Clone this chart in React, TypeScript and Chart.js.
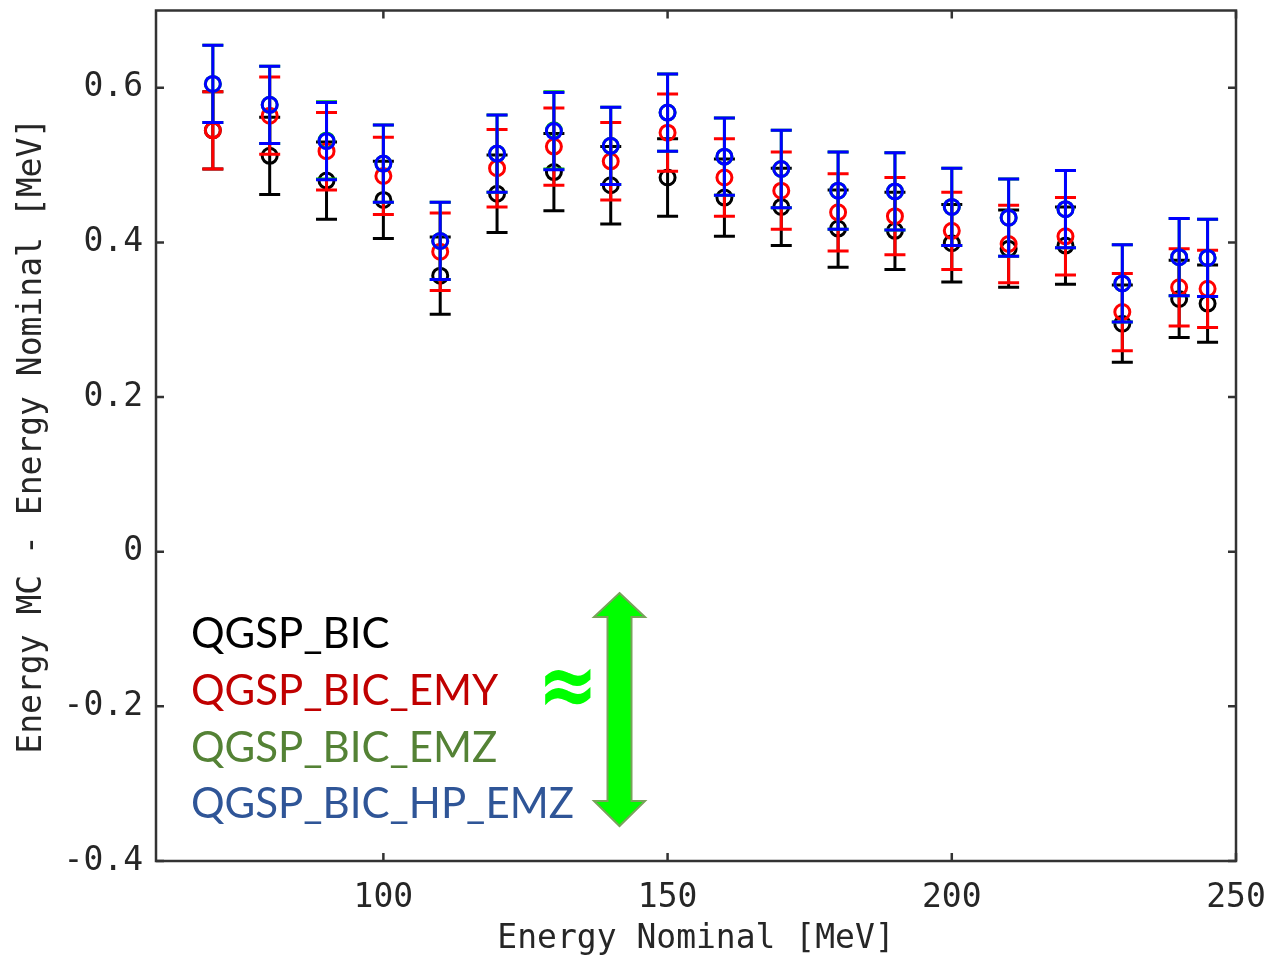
import React, { useEffect, useRef } from 'react';
import { Chart, registerables } from 'chart.js';

Chart.register(...registerables);

// ---- data ----
const energies = [70, 80, 90, 100, 110, 120, 130, 140, 150, 160, 170, 180, 190, 200, 210, 220, 230, 240, 245];

const qgspBic = [0.545, 0.512, 0.480, 0.455, 0.357, 0.463, 0.491, 0.474, 0.484, 0.458, 0.446, 0.418, 0.415, 0.399, 0.392, 0.396, 0.295, 0.327, 0.321];
const qgspBicErr = [0.05, 0.05, 0.05, 0.05, 0.05, 0.05, 0.05, 0.05, 0.05, 0.05, 0.05, 0.05, 0.05, 0.05, 0.05, 0.05, 0.05, 0.05, 0.05];

const qgspBicEmy = [0.545, 0.564, 0.518, 0.486, 0.388, 0.496, 0.524, 0.505, 0.542, 0.484, 0.467, 0.439, 0.434, 0.415, 0.398, 0.408, 0.310, 0.342, 0.340];
const qgspBicEmyErr = [0.05, 0.05, 0.05, 0.05, 0.05, 0.05, 0.05, 0.05, 0.05, 0.05, 0.05, 0.05, 0.05, 0.05, 0.05, 0.05, 0.05, 0.05, 0.05];

const qgspBicEmz = [0.605, 0.578, 0.532, 0.502, 0.402, 0.515, 0.545, 0.525, 0.568, 0.511, 0.495, 0.467, 0.466, 0.446, 0.432, 0.443, 0.347, 0.381, 0.380];
const qgspBicEmzErr = [0.05, 0.05, 0.05, 0.05, 0.05, 0.05, 0.05, 0.05, 0.05, 0.05, 0.05, 0.05, 0.05, 0.05, 0.05, 0.05, 0.05, 0.05, 0.05];

const qgspBicHpEmz = [0.605, 0.578, 0.531, 0.502, 0.402, 0.515, 0.544, 0.525, 0.568, 0.511, 0.495, 0.467, 0.466, 0.446, 0.432, 0.443, 0.347, 0.381, 0.380];
const qgspBicHpEmzErr = [0.05, 0.05, 0.05, 0.05, 0.05, 0.05, 0.05, 0.05, 0.05, 0.05, 0.05, 0.05, 0.05, 0.05, 0.05, 0.05, 0.05, 0.05, 0.05];

const seriesNames = ['QGSP_BIC', 'QGSP_BIC_EMY', 'QGSP_BIC_EMZ', 'QGSP_BIC_HP_EMZ'];
const markerColors = ['#000000', '#ff0000', '#00c000', '#0000ff'];
const legendColors = ['#000000', '#c00000', '#548235', '#2f5597'];

const xTicks = [100, 150, 200, 250];
const yTicks = [-0.4, -0.2, 0, 0.2, 0.4, 0.6];
const yTickLabels = ['-0.4', '-0.2', '0', '0.2', '0.4', '0.6'];

const xTitle = 'Energy Nominal [MeV]';
const yTitle = 'Energy MC - Energy Nominal [MeV]';
const approxSymbol = '\u2248';

const axisFont = 'DejaVu Sans Mono';
const axisColor = '#262626';

const errorBarPlugin = {
  id: 'errorBars',
  beforeDatasetDraw(chart: any, args: any) {
    const ds = chart.data.datasets[args.index];
    const err: number[] = ds.errors;
    if (!err) return;
    const { ctx } = chart;
    const xs = chart.scales.x;
    const ys = chart.scales.y;
    ctx.save();
    ctx.strokeStyle = ds.borderColor;
    ctx.lineWidth = 3;
    ds.data.forEach((p: any, i: number) => {
      const px = xs.getPixelForValue(p.x);
      const top = ys.getPixelForValue(p.y + err[i]);
      const bot = ys.getPixelForValue(p.y - err[i]);
      ctx.beginPath();
      ctx.moveTo(px, top);
      ctx.lineTo(px, bot);
      ctx.moveTo(px - 10.5, top);
      ctx.lineTo(px + 10.5, top);
      ctx.moveTo(px - 10.5, bot);
      ctx.lineTo(px + 10.5, bot);
      ctx.stroke();
    });
    ctx.restore();
  },
};

const framePlugin = {
  id: 'frameTicks',
  beforeDatasetsDraw(chart: any) {
    const { ctx, chartArea } = chart;
    const { left, right, top, bottom } = chartArea;
    const xs = chart.scales.x;
    const ys = chart.scales.y;
    const tl = 8;
    ctx.save();
    ctx.strokeStyle = '#333333';
    ctx.lineWidth = 2.5;
    ctx.strokeRect(left, top, right - left, bottom - top);
    ctx.beginPath();
    xTicks.forEach((v) => {
      const px = xs.getPixelForValue(v);
      ctx.moveTo(px, bottom);
      ctx.lineTo(px, bottom - tl);
      ctx.moveTo(px, top);
      ctx.lineTo(px, top + tl);
    });
    yTicks.forEach((v) => {
      const py = ys.getPixelForValue(v);
      ctx.moveTo(left, py);
      ctx.lineTo(left + tl, py);
      ctx.moveTo(right, py);
      ctx.lineTo(right - tl, py);
    });
    ctx.stroke();
    ctx.restore();
  },
};

const annotationPlugin = {
  id: 'annotations',
  afterDraw(chart: any) {
    const { ctx } = chart;
    ctx.save();
    // legend text
    ctx.font = '42px Lato';
    ctx.textAlign = 'left';
    ctx.textBaseline = 'alphabetic';
    const baselines = [648, 705, 762, 818];
    seriesNames.forEach((name, i) => {
      ctx.fillStyle = legendColors[i];
      ctx.fillText(name, 191, baselines[i]);
    });

    // approximately-equal sign
    ctx.font = 'bold 80px "DejaVu Sans"';
    const m = ctx.measureText(approxSymbol);
    const inkW = m.actualBoundingBoxLeft + m.actualBoundingBoxRight;
    const inkH = m.actualBoundingBoxAscent + m.actualBoundingBoxDescent;
    const boxL = 545, boxT = 668, boxW = 46, boxH = 38;
    ctx.translate(boxL, boxT);
    ctx.scale(boxW / inkW, boxH / inkH);
    ctx.fillStyle = '#00ff00';
    ctx.fillText(approxSymbol, m.actualBoundingBoxLeft, m.actualBoundingBoxAscent);
    ctx.setTransform(1, 0, 0, 1, 0, 0);

    // double-headed arrow
    const cx = 619.5, tipT = 593, tipB = 826, headT = 617, headB = 801, hw = 25.5, sw = 12;
    ctx.beginPath();
    ctx.moveTo(cx, tipT);
    ctx.lineTo(cx + hw, headT);
    ctx.lineTo(cx + sw, headT);
    ctx.lineTo(cx + sw, headB);
    ctx.lineTo(cx + hw, headB);
    ctx.lineTo(cx, tipB);
    ctx.lineTo(cx - hw, headB);
    ctx.lineTo(cx - sw, headB);
    ctx.lineTo(cx - sw, headT);
    ctx.lineTo(cx - hw, headT);
    ctx.closePath();
    ctx.fillStyle = '#00ff00';
    ctx.fill();
    ctx.strokeStyle = '#78a25a';
    ctx.lineWidth = 2;
    ctx.stroke();
    ctx.restore();
  },
};

export default function App() {
  const canvasRef = useRef<HTMLCanvasElement | null>(null);

  useEffect(() => {
    document.body.style.margin = '0';
    const canvas = canvasRef.current;
    if (!canvas) return;
    const series = [qgspBic, qgspBicEmy, qgspBicEmz, qgspBicHpEmz];
    const errs = [qgspBicErr, qgspBicEmyErr, qgspBicEmzErr, qgspBicHpEmzErr];
    const datasets = series.map((vals, s) => ({
      label: seriesNames[s],
      data: energies.map((x, i) => ({ x, y: vals[i] })),
      errors: errs[s],
      borderColor: markerColors[s],
      backgroundColor: 'rgba(0,0,0,0)',
      pointStyle: 'circle',
      pointRadius: 7.5,
      pointBorderWidth: 3,
      showLine: false,
      order: 4 - s,
    }));

    const chart = new Chart(canvas, {
      type: 'scatter',
      data: { datasets } as any,
      plugins: [framePlugin, errorBarPlugin, annotationPlugin],
      options: {
        animation: false,
        responsive: false,
        maintainAspectRatio: false,
        layout: { padding: { left: 0, right: 34, top: 9, bottom: 0 } },
        plugins: { legend: { display: false }, tooltip: { enabled: false } },
        scales: {
          x: {
            type: 'linear',
            min: 60,
            max: 250,
            afterBuildTicks: (s: any) => {
              s.ticks = xTicks.map((v) => ({ value: v }));
            },
            afterFit: (s: any) => {
              s.height = 95;
              s.paddingLeft = 0;
              s.paddingRight = 0;
              s.paddingTop = 0;
              s.paddingBottom = 0;
            },
            grid: { display: false, drawTicks: false },
            border: { display: false },
            ticks: {
              font: { family: axisFont, size: 33 },
              color: axisColor,
              padding: 18,
              maxRotation: 0,
              autoSkip: false,
            },
            title: {
              display: true,
              text: xTitle,
              font: { family: axisFont, size: 33 },
              color: axisColor,
              padding: { top: 0, bottom: -3 },
            },
          },
          y: {
            type: 'linear',
            min: -0.4,
            max: 0.7,
            afterBuildTicks: (s: any) => {
              s.ticks = yTicks.map((v) => ({ value: v }));
            },
            afterFit: (s: any) => {
              s.width = 156;
              s.paddingLeft = 0;
              s.paddingRight = 0;
              s.paddingTop = 0;
              s.paddingBottom = 0;
            },
            grid: { display: false, drawTicks: false },
            border: { display: false },
            ticks: {
              font: { family: axisFont, size: 33 },
              color: axisColor,
              padding: 13,
              autoSkip: false,
              callback: (v: any) => {
                const idx = yTicks.indexOf(v);
                return idx >= 0 ? yTickLabels[idx] : '';
              },
            },
            title: {
              display: true,
              text: yTitle,
              font: { family: axisFont, size: 33 },
              color: axisColor,
              padding: { top: 13, bottom: 0 },
            },
          },
        },
      } as any,
    });
    return () => chart.destroy();
  }, []);

  return (
    <div style={{ position: 'relative', width: 1270, height: 956 }}>
      <canvas ref={canvasRef} width={1270} height={956} style={{ display: 'block' }} />
    </div>
  );
}
